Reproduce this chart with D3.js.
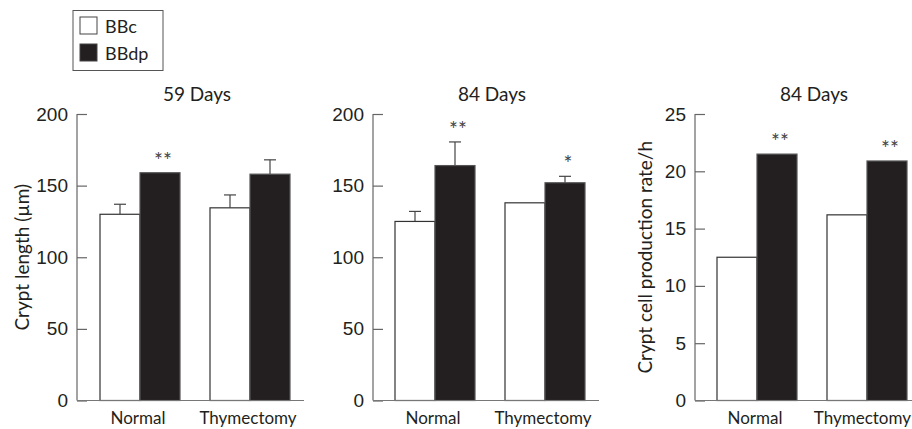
<!DOCTYPE html>
<html>
<head>
<meta charset="utf-8">
<script src="https://cdn.jsdelivr.net/npm/d3@7"></script>
<style>
  body { margin: 0; background: #fff; }
  svg { font-family: Lato, "Open Sans", sans-serif; }
  .tick text { font-size: 19px; fill: #231f20; }
</style>
</head>
<body>
<div id="viz"></div>
<script>
// groups and series
const groups = ["Normal", "Thymectomy"];
const series = ["BBc", "BBdp"];

// panel 1: crypt length at 59 days
const len59 = [130, 159, 134.5, 158];
const len59Err = [137, null, 143.5, 168];
const len59Sig = ["", "**", "", ""];

// panel 2: crypt length at 84 days
const len84 = [125, 164, 138, 152];
const len84Err = [132, 180.5, null, 156.5];
const len84Sig = ["", "**", "", "*"];

// panel 3: crypt cell production rate at 84 days
const rate84 = [12.5, 21.5, 16.2, 20.9];
const rate84Err = [null, null, null, null];
const rate84Sig = ["", "**", "", "**"];

const ticksLen = [0, 50, 100, 150, 200];
const ticksRate = [0, 5, 10, 15, 20, 25];

const fillColor = { "BBc": "#ffffff", "BBdp": "#231f20" };

const W = 912, H = 429;

const svg = d3.select("#viz")
  .append("svg")
  .attr("width", W)
  .attr("height", H);

const panels = [
  { title: "59 Days", values: len59, errs: len59Err, sig: len59Sig, max: 200, ticks: ticksLen,
    x0: 77, x1: 304, barL: 100, barR: 290, ylabel: "Crypt length (\u00b5m)", ylabelX: 22 },
  { title: "84 Days", values: len84, errs: len84Err, sig: len84Sig, max: 200, ticks: ticksLen,
    x0: 373, x1: 599, barL: 395, barR: 585, ylabel: null },
  { title: "84 Days", values: rate84, errs: rate84Err, sig: rate84Sig, max: 25, ticks: ticksRate,
    x0: 695, x1: 912, barL: 717, barR: 907, ylabel: "Crypt cell production rate/h", ylabelX: 645 }
];

const yTop = 114, yBottom = 400.5;

panels.forEach(p => {
  const g = svg.append("g");

  const y = d3.scaleLinear().domain([0, p.max]).range([yBottom, yTop]);

  // outer bands: one per group (80px wide, 30px gap), inner: one per series
  const xGroup = d3.scaleBand()
    .domain(groups)
    .range([p.barL, p.barR])
    .paddingInner(0.2727);
  const xSeries = d3.scaleBand().domain(series).range([0, xGroup.bandwidth()]);

  const rows = [];
  groups.forEach((gr, i) => series.forEach((s, j) => {
    const k = i * 2 + j;
    rows.push({ group: gr, series: s, value: p.values[k], err: p.errs[k], sig: p.sig[k] });
  }));

  // error bars (drawn first, only the upper whisker shows)
  rows.filter(d => d.err != null).forEach(d => {
    const cx = xGroup(d.group) + xSeries(d.series) + xSeries.bandwidth() / 2;
    g.append("line")
      .attr("x1", cx).attr("x2", cx)
      .attr("y1", y(d.value)).attr("y2", y(d.err))
      .attr("stroke", "#444").attr("stroke-width", 1.2);
    g.append("line")
      .attr("x1", cx - 6).attr("x2", cx + 6)
      .attr("y1", y(d.err)).attr("y2", y(d.err))
      .attr("stroke", "#444").attr("stroke-width", 1.2);
  });

  // bars
  g.selectAll("rect.bar")
    .data(rows)
    .join("rect")
    .attr("class", "bar")
    .attr("x", d => xGroup(d.group) + xSeries(d.series))
    .attr("y", d => y(d.value))
    .attr("width", xSeries.bandwidth())
    .attr("height", d => y(0) - y(d.value))
    .attr("fill", d => fillColor[d.series])
    .attr("stroke", d => d.series === "BBc" ? "#333" : "#555")
    .attr("stroke-width", 1.2);

  // significance stars
  rows.filter(d => d.sig).forEach(d => {
    const cx = xGroup(d.group) + xSeries(d.series) + xSeries.bandwidth() / 2;
    const top = y(d.err != null ? d.err : d.value);
    g.append("text")
      .attr("x", cx + 3)
      .attr("y", top - 5)
      .attr("text-anchor", "middle")
      .attr("font-size", 21)
      .attr("fill", "#444")
      .text(d.sig);
  });

  // y axis, ticks pointing inwards
  const yAxis = d3.axisLeft(y).tickValues(p.ticks).tickSize(-10).tickPadding(8);
  const ya = g.append("g")
    .attr("transform", `translate(${p.x0},0)`)
    .call(yAxis);
  ya.select(".domain").remove();
  ya.selectAll(".tick line").attr("stroke", "#666").attr("stroke-width", 1.2);
  ya.selectAll(".tick text").attr("x", -9);
  ya.append("line")
    .attr("x1", 0).attr("x2", 0)
    .attr("y1", yTop).attr("y2", yBottom)
    .attr("stroke", "#666").attr("stroke-width", 1.2);

  // x baseline
  g.append("line")
    .attr("x1", p.x0).attr("x2", p.x1)
    .attr("y1", yBottom).attr("y2", yBottom)
    .attr("stroke", "#777").attr("stroke-width", 1.2);

  // group labels (kept inside the right edge)
  groups.forEach(gr => {
    const t = g.append("text")
      .attr("y", 424)
      .attr("text-anchor", "middle")
      .attr("font-size", 17)
      .attr("fill", "#231f20")
      .text(gr);
    const w = t.node().getComputedTextLength();
    const cx = Math.min(xGroup(gr) + xGroup.bandwidth() / 2 - 2, W - 1 - w / 2);
    t.attr("x", cx);
  });

  // title
  g.append("text")
    .attr("x", (p.barL + p.barR) / 2 + 2)
    .attr("y", 101)
    .attr("text-anchor", "middle")
    .attr("font-size", 19)
    .attr("fill", "#231f20")
    .text(p.title);

  if (p.ylabel) {
    g.append("text")
      .attr("transform", `translate(${p.ylabelX + 7},${(yTop + yBottom) / 2}) rotate(-90)`)
      .attr("text-anchor", "middle")
      .attr("font-size", 19)
      .attr("fill", "#231f20")
      .text(p.ylabel);
  }
});

// legend
const legend = svg.append("g");
legend.append("rect")
  .attr("x", 73).attr("y", 10.5).attr("width", 90).attr("height", 60)
  .attr("fill", "#fff").attr("stroke", "#555").attr("stroke-width", 1);
series.forEach((s, i) => {
  legend.append("rect")
    .attr("x", 80).attr("y", 17 + i * 27).attr("width", 17).attr("height", 17)
    .attr("fill", fillColor[s]).attr("stroke", "#444").attr("stroke-width", 1);
  legend.append("text")
    .attr("x", 105).attr("y", 33 + i * 27)
    .attr("font-size", 18)
    .attr("fill", "#231f20")
    .text(s);
});
</script>
</body>
</html>
